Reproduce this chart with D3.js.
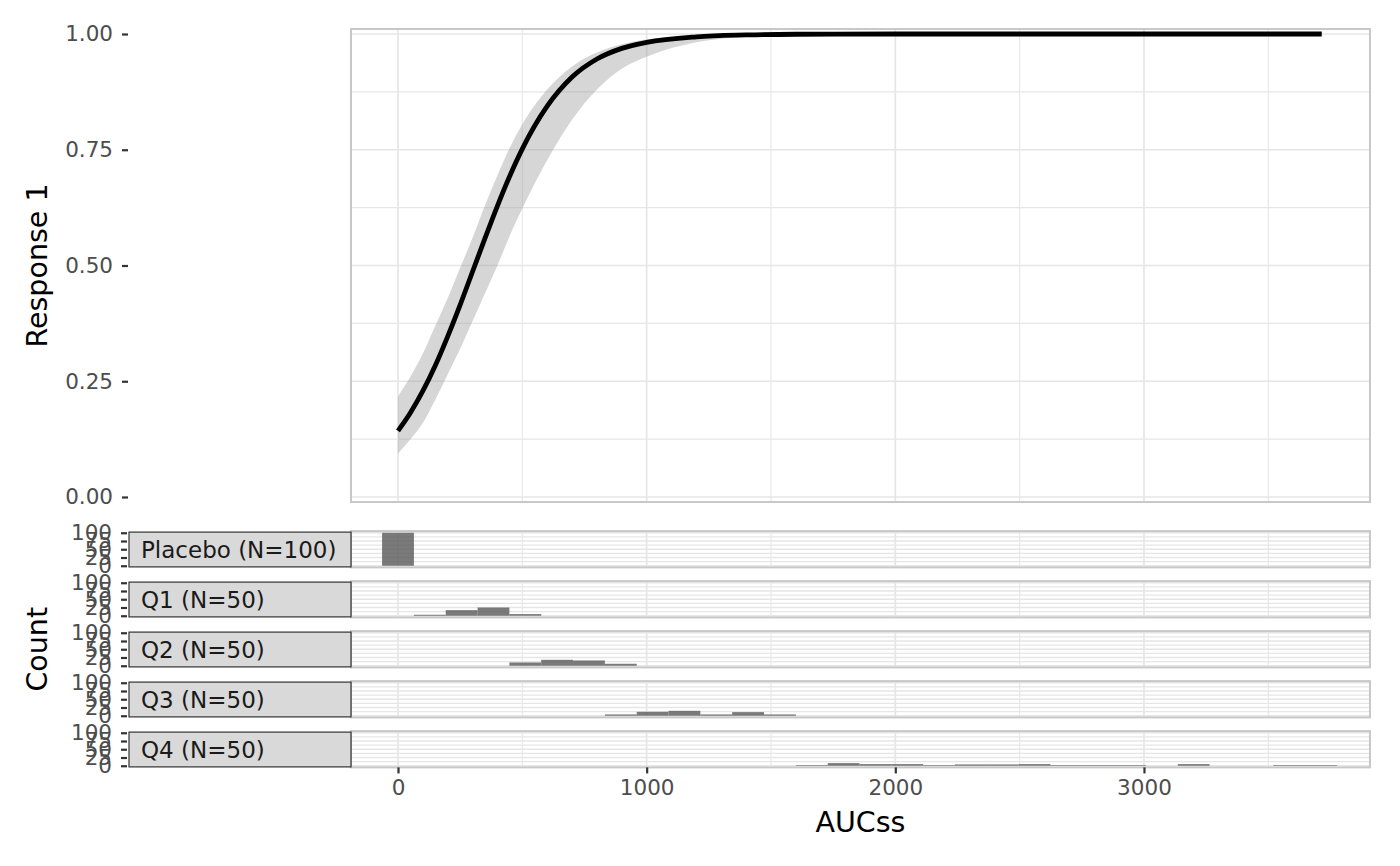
<!DOCTYPE html>
<html>
<head>
<meta charset="utf-8">
<script src="https://cdn.jsdelivr.net/npm/d3@7"></script>
<style>
  html, body { margin: 0; padding: 0; background: #fff; }
  svg { display: block; }
  text { font-family: "DejaVu Sans", sans-serif; }
</style>
</head>
<body>
<svg id="chart" width="1400" height="866"></svg>
<script>
// ---------- data ----------
const xTicks = [0, 1000, 2000, 3000];
const xMinorTicks = [500, 1500, 2500, 3500];
const yTicks = [0, 0.25, 0.5, 0.75, 1];
const yMinorTicks = [0.125, 0.375, 0.625, 0.875];
const countTicks = [0, 25, 50, 75, 100];
const countMinorTicks = [12.5, 37.5, 62.5, 87.5];

// exposure-response fit
const curveX   = [0, 50, 100, 150, 200, 250, 300, 350, 400, 450, 500, 600, 700, 800, 900, 1000, 1200, 1400, 1600, 2000, 2500, 3000, 3500, 3715];
const curveFit = [0.143, 0.182, 0.229, 0.284, 0.347, 0.415, 0.487, 0.559, 0.629, 0.694, 0.752, 0.844, 0.907, 0.946, 0.969, 0.982, 0.994, 0.998, 0.9995, 1, 1, 1, 1, 1];
const curveLo  = [0.094, 0.125, 0.16, 0.21, 0.265, 0.32, 0.38, 0.44, 0.50, 0.565, 0.623, 0.728, 0.815, 0.88, 0.925, 0.951, 0.982, 0.994, 0.998, 0.9997, 1, 1, 1, 1];
const curveHi  = [0.217, 0.26, 0.31, 0.37, 0.43, 0.495, 0.56, 0.63, 0.695, 0.755, 0.805, 0.88, 0.93, 0.96, 0.978, 0.988, 0.996, 0.999, 0.9998, 1, 1, 1, 1, 1];

// histogram of exposure by group
const groups = ["Placebo (N=100)", "Q1 (N=50)", "Q2 (N=50)", "Q3 (N=50)", "Q4 (N=50)"];
const binWidth = 128;
const binLeft = [-64, 64, 192, 320, 448, 576, 704, 832, 960, 1088, 1216, 1344, 1472, 1600, 1728, 1856, 1984, 2112, 2240, 2368, 2496, 2624, 2752, 2880, 3008, 3136, 3264, 3392, 3520, 3648];
const countsPlacebo = [100, 0, 0, 0, 0, 0, 0, 0, 0, 0, 0, 0, 0, 0, 0, 0, 0, 0, 0, 0, 0, 0, 0, 0, 0, 0, 0, 0, 0, 0];
const countsQ1      = [0, 3, 17, 25, 5, 0, 0, 0, 0, 0, 0, 0, 0, 0, 0, 0, 0, 0, 0, 0, 0, 0, 0, 0, 0, 0, 0, 0, 0, 0];
const countsQ2      = [0, 0, 0, 0, 10, 18, 16, 6, 0, 0, 0, 0, 0, 0, 0, 0, 0, 0, 0, 0, 0, 0, 0, 0, 0, 0, 0, 0, 0, 0];
const countsQ3      = [0, 0, 0, 0, 0, 0, 0, 4, 12, 15, 4, 11, 4, 0, 0, 0, 0, 0, 0, 0, 0, 0, 0, 0, 0, 0, 0, 0, 0, 0];
const countsQ4      = [0, 0, 0, 0, 0, 0, 0, 0, 0, 0, 0, 0, 0, 2, 8, 5, 5, 2, 4, 4, 5, 2, 2, 2, 0, 5, 0, 0, 2, 2];
const groupCounts = [countsPlacebo, countsQ1, countsQ2, countsQ3, countsQ4];

// ---------- layout ----------
const svg = d3.select("#chart");
const W = 1400, H = 866;
svg.append("rect").attr("width", W).attr("height", H).attr("fill", "#fff");

const panelL = 351, panelR = 1370;
const axisX = 128;
const topPanel = { top: 29, bottom: 502 };
const histTop0 = 531.1, histH = 36.3, histStep = 50;
const stripL = 129;

const x = d3.scaleLinear().domain([-189, 3909]).range([panelL, panelR]);
const y = d3.scaleLinear().domain([-0.0108, 1.0108]).range([topPanel.bottom, topPanel.top]);

const gridCol = "#e6e6e6";
const borderCol = "#c8c8c8";
const tickCol = "#333333";
const labelCol = "#4d4d4d";
const tickFont = 21.5;
const stripFont = 23;
const titleFont = 28.5;

// ---------- top panel ----------
const gTop = svg.append("g");
gTop.append("rect").attr("x", panelL).attr("y", topPanel.top)
  .attr("width", panelR - panelL).attr("height", topPanel.bottom - topPanel.top).attr("fill", "#fff");
gTop.selectAll("line.ymin").data(yMinorTicks).join("line")
  .attr("x1", panelL).attr("x2", panelR).attr("y1", d => y(d)).attr("y2", d => y(d))
  .attr("stroke", gridCol).attr("stroke-width", 1.1);
gTop.selectAll("line.xmin").data(xMinorTicks).join("line")
  .attr("y1", topPanel.top).attr("y2", topPanel.bottom).attr("x1", d => x(d)).attr("x2", d => x(d))
  .attr("stroke", gridCol).attr("stroke-width", 1.1);
gTop.selectAll("line.ymaj").data(yTicks).join("line")
  .attr("x1", panelL).attr("x2", panelR).attr("y1", d => y(d)).attr("y2", d => y(d))
  .attr("stroke", gridCol).attr("stroke-width", 1.7);
gTop.selectAll("line.xmaj").data(xTicks).join("line")
  .attr("y1", topPanel.top).attr("y2", topPanel.bottom).attr("x1", d => x(d)).attr("x2", d => x(d))
  .attr("stroke", gridCol).attr("stroke-width", 1.7);

const bandData = curveX.map((v, i) => ({ x: v, lo: curveLo[i], hi: curveHi[i], fit: curveFit[i] }));
gTop.append("path").datum(bandData)
  .attr("d", d3.area().x(d => x(d.x)).y0(d => y(d.lo)).y1(d => y(d.hi)).curve(d3.curveMonotoneX))
  .attr("fill", "#999999").attr("fill-opacity", 0.4);
gTop.append("path").datum(bandData)
  .attr("d", d3.line().x(d => x(d.x)).y(d => y(d.fit)).curve(d3.curveMonotoneX))
  .attr("fill", "none").attr("stroke", "#000").attr("stroke-width", 4.8);

gTop.append("rect").attr("x", panelL).attr("y", topPanel.top)
  .attr("width", panelR - panelL).attr("height", topPanel.bottom - topPanel.top)
  .attr("fill", "none").attr("stroke", borderCol).attr("stroke-width", 2);

// y axis of top panel (drawn at the strip's left edge)
const yAxis = d3.axisLeft(y).tickValues(yTicks).tickFormat(d3.format(".2f")).tickSize(6).tickPadding(9);
const gy = svg.append("g").attr("transform", `translate(${axisX},0)`).call(yAxis);
gy.select(".domain").remove();
gy.selectAll(".tick line").attr("stroke", tickCol).attr("stroke-width", 2.2);
gy.selectAll(".tick text").attr("fill", labelCol).style("font-size", tickFont + "px").style("font-family", "DejaVu Sans");

svg.append("text").attr("transform", `translate(47,${(topPanel.top + topPanel.bottom) / 2}) rotate(-90)`)
  .attr("text-anchor", "middle").attr("fill", "#000").style("font-size", titleFont + "px").text("Response 1");

// ---------- histogram panels ----------
groups.forEach((name, gi) => {
  const top = histTop0 + gi * histStep;
  const bottom = top + histH;
  const yc = d3.scaleLinear().domain([-5, 105]).range([bottom, top]);
  const g = svg.append("g");
  g.append("rect").attr("x", panelL).attr("y", top).attr("width", panelR - panelL).attr("height", histH).attr("fill", "#fff");
  g.selectAll("line.cmin").data(countMinorTicks).join("line")
    .attr("x1", panelL).attr("x2", panelR).attr("y1", d => yc(d)).attr("y2", d => yc(d))
    .attr("stroke", gridCol).attr("stroke-width", 1.1);
  g.selectAll("line.xmin").data(xMinorTicks).join("line")
    .attr("y1", top).attr("y2", bottom).attr("x1", d => x(d)).attr("x2", d => x(d))
    .attr("stroke", gridCol).attr("stroke-width", 1.1);
  g.selectAll("line.cmaj").data(countTicks).join("line")
    .attr("x1", panelL).attr("x2", panelR).attr("y1", d => yc(d)).attr("y2", d => yc(d))
    .attr("stroke", gridCol).attr("stroke-width", 1.7);
  g.selectAll("line.xmaj").data(xTicks).join("line")
    .attr("y1", top).attr("y2", bottom).attr("x1", d => x(d)).attr("x2", d => x(d))
    .attr("stroke", gridCol).attr("stroke-width", 1.7);

  const bins = binLeft.map((b, i) => ({ x0: b, x1: b + binWidth, n: groupCounts[gi][i] })).filter(d => d.n > 0);
  g.selectAll("rect.bar").data(bins).join("rect")
    .attr("x", d => x(d.x0)).attr("width", d => x(d.x1) - x(d.x0))
    .attr("y", d => yc(d.n)).attr("height", d => yc(0) - yc(d.n))
    .attr("fill", "#595959").attr("fill-opacity", 0.8);

  g.append("rect").attr("x", panelL).attr("y", top).attr("width", panelR - panelL).attr("height", histH)
    .attr("fill", "none").attr("stroke", borderCol).attr("stroke-width", 2);

  // strip on the left
  g.append("rect").attr("x", stripL).attr("y", top + 1).attr("width", panelL - stripL).attr("height", histH - 1.5)
    .attr("fill", "#d9d9d9").attr("stroke", "#333333").attr("stroke-width", 1.2);
  g.append("text").attr("x", stripL + 12).attr("y", (top + bottom) / 2).attr("dy", "0.36em")
    .attr("fill", "#1a1a1a").style("font-size", stripFont + "px").text(name);

  const ca = d3.axisLeft(yc).tickValues(countTicks).tickFormat(d3.format("d")).tickSize(6).tickPadding(9);
  const gca = svg.append("g").attr("transform", `translate(${axisX - 1},0)`).call(ca);
  gca.select(".domain").remove();
  gca.selectAll(".tick line").attr("stroke", tickCol).attr("stroke-width", 2.2);
  gca.selectAll(".tick text").attr("fill", labelCol).style("font-size", tickFont + "px").style("font-family", "DejaVu Sans");
});

// x axis
const lastBottom = histTop0 + 4 * histStep + histH;
const xAxis = d3.axisBottom(x).tickValues(xTicks).tickFormat(d3.format("d")).tickSize(6).tickPadding(6);
const gx = svg.append("g").attr("transform", `translate(0,${lastBottom})`).call(xAxis);
gx.select(".domain").remove();
gx.selectAll(".tick line").attr("stroke", tickCol).attr("stroke-width", 2.2);
gx.selectAll(".tick text").attr("fill", labelCol).style("font-size", tickFont + "px").style("font-family", "DejaVu Sans");

svg.append("text").attr("x", (panelL + panelR) / 2).attr("y", 832)
  .attr("text-anchor", "middle").attr("fill", "#000").style("font-size", titleFont + "px").text("AUCss");
svg.append("text").attr("transform", `translate(47,${histTop0 + 2 * histStep + histH / 2}) rotate(-90)`)
  .attr("text-anchor", "middle").attr("fill", "#000").style("font-size", titleFont + "px").text("Count");
</script>
</body>
</html>
